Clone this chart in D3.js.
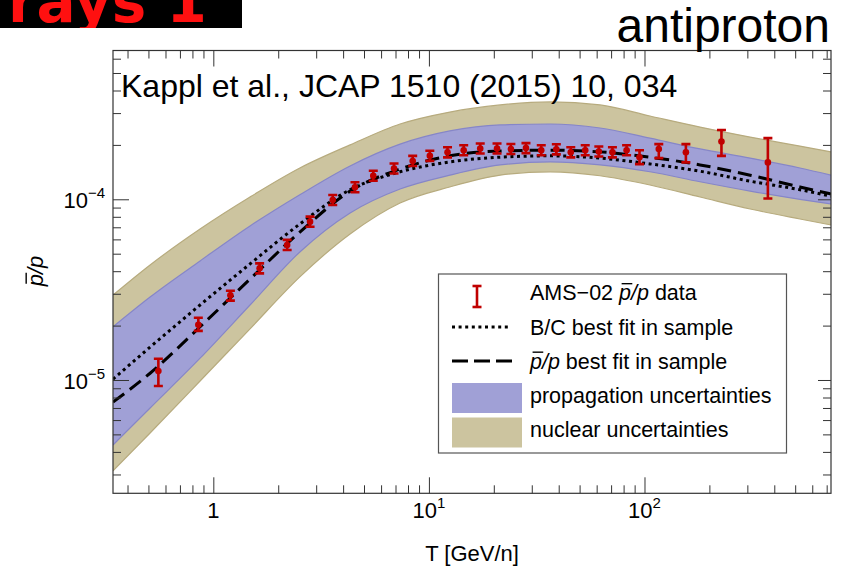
<!DOCTYPE html>
<html>
<head>
<meta charset="utf-8">
<script src="https://cdn.jsdelivr.net/npm/d3@7/dist/d3.min.js"></script>
<style>
body { margin: 0; background: #fff; }
text { font-family: "Liberation Sans", Arial, sans-serif; fill: #000; }
</style>
</head>
<body>
<svg width="846" height="570"></svg>
<script>
// sample energies T [GeV/n] for the model curves
var energy = [0.3425, 0.509, 0.868, 1.48, 2.52, 4.31, 7.35, 12.5, 21.4, 36.5, 62.2, 106, 181, 309, 526, 733];
// nuclear uncertainty band (outer)
var nuclearUpper = [2.95e-5, 4.33e-5, 6.85e-5, 1.03e-4, 1.49e-4, 2.00e-4, 2.61e-4, 3.04e-4, 3.33e-4, 3.46e-4, 3.33e-4, 2.89e-4, 2.51e-4, 2.21e-4, 1.97e-4, 1.83e-4];
var nuclearLower = [3.14e-6, 5.09e-6, 9.87e-6, 1.92e-5, 3.72e-5, 6.43e-5, 9.54e-5, 1.17e-4, 1.36e-4, 1.42e-4, 1.35e-4, 1.20e-4, 1.03e-4, 8.84e-5, 7.78e-5, 7.21e-5];
// propagation uncertainty band (inner)
var propUpper = [1.97e-5, 2.88e-5, 4.56e-5, 7.12e-5, 1.06e-4, 1.53e-4, 2.02e-4, 2.39e-4, 2.58e-4, 2.61e-4, 2.48e-4, 2.18e-4, 1.90e-4, 1.69e-4, 1.49e-4, 1.36e-4];
var propLower = [4.37e-6, 7.00e-6, 1.32e-5, 2.60e-5, 5.11e-5, 8.40e-5, 1.14e-4, 1.36e-4, 1.55e-4, 1.61e-4, 1.55e-4, 1.42e-4, 1.25e-4, 1.11e-4, 1.00e-4, 9.42e-5];
// best fits
var bcFit = [1.01e-5, 1.52e-5, 2.60e-5, 4.39e-5, 7.30e-5, 1.13e-4, 1.42e-4, 1.61e-4, 1.71e-4, 1.74e-4, 1.69e-4, 1.57e-4, 1.43e-4, 1.26e-4, 1.13e-4, 1.04e-4];
var pbarFit = [7.55e-6, 1.09e-5, 1.97e-5, 3.62e-5, 6.59e-5, 1.11e-4, 1.47e-4, 1.74e-4, 1.85e-4, 1.87e-4, 1.83e-4, 1.71e-4, 1.55e-4, 1.36e-4, 1.17e-4, 1.07e-4];

// AMS-02 pbar/p data
var dataT = [0.556, 0.852, 1.20, 1.64, 2.20, 2.81, 3.58, 4.54, 5.52, 6.89, 8.41, 10.1, 12.2, 14.5, 17.3, 20.7, 24.0, 28.2, 33.2, 39.0, 45.5, 53.1, 61.4, 71.0, 82.6, 94.8, 116.5, 155.6, 227.5, 373.5];
var dataRatio = [1.12e-5, 2.02e-5, 2.94e-5, 4.15e-5, 5.59e-5, 7.52e-5, 9.91e-5, 1.165e-4, 1.35e-4, 1.48e-4, 1.63e-4, 1.74e-4, 1.82e-4, 1.87e-4, 1.91e-4, 1.91e-4, 1.90e-4, 1.92e-4, 1.87e-4, 1.89e-4, 1.82e-4, 1.87e-4, 1.84e-4, 1.82e-4, 1.87e-4, 1.71e-4, 1.90e-4, 1.82e-4, 2.09e-4, 1.60e-4];
var dataLow = [9.26e-6, 1.87e-5, 2.75e-5, 3.89e-5, 5.24e-5, 7.05e-5, 9.30e-5, 1.093e-4, 1.266e-4, 1.388e-4, 1.529e-4, 1.632e-4, 1.707e-4, 1.754e-4, 1.792e-4, 1.792e-4, 1.782e-4, 1.801e-4, 1.754e-4, 1.773e-4, 1.707e-4, 1.754e-4, 1.726e-4, 1.707e-4, 1.754e-4, 1.565e-4, 1.69e-4, 1.60e-4, 1.74e-4, 1.01e-4];
var dataHigh = [1.31e-5, 2.21e-5, 3.12e-5, 4.42e-5, 5.96e-5, 8.02e-5, 1.056e-4, 1.242e-4, 1.439e-4, 1.578e-4, 1.738e-4, 1.855e-4, 1.940e-4, 1.993e-4, 2.036e-4, 2.036e-4, 2.025e-4, 2.047e-4, 1.993e-4, 2.015e-4, 1.940e-4, 1.993e-4, 1.961e-4, 1.940e-4, 1.993e-4, 1.869e-4, 2.02e-4, 2.02e-4, 2.42e-4, 2.18e-4];

var xMajor = [1, 10, 100];
var yMajor = [1e-5, 1e-4];
var legendLabels = ["AMS\u221202 p/p data", "B/C best fit in sample", "p/p best fit in sample", "propagation uncertainties", "nuclear uncertainties"];

var red = "#c00000", tanFill = "#ccc49f", tanEdge = "#b7ab7e", purpFill = "#a0a0d6", purpEdge = "#8686c8";

var svg = d3.select("svg");
var frame = {left: 113, right: 831, top: 50.5, bottom: 493.3};

var x = d3.scaleLog().domain([0.3425, 733]).range([frame.left, frame.right]);
var y = d3.scaleLog().domain([2.36e-6, 6.66e-4]).range([frame.bottom, frame.top]);

// slide header bits (cut off at the top, as on the slide)
svg.append("rect").attr("x", 0).attr("y", 0).attr("width", 242).attr("height", 28).attr("fill", "#000");
svg.append("clipPath").attr("id", "hdr").append("rect").attr("width", 242).attr("height", 28);
svg.append("text").attr("clip-path", "url(#hdr)")
  .attr("x", 8).attr("y", 22)
  .style("font-family", "'DejaVu Sans', sans-serif").style("font-weight", "bold")
  .style("font-size", "58px").style("fill", "#ff1010")
  .text("rays 1");

svg.append("defs").append("clipPath").attr("id", "plot")
  .append("rect").attr("x", frame.left).attr("y", frame.top)
  .attr("width", frame.right - frame.left).attr("height", frame.bottom - frame.top);

var plot = svg.append("g").attr("clip-path", "url(#plot)");
var idx = d3.range(energy.length);

function band(lower, upper, fill, edge) {
  var area = d3.area().curve(d3.curveMonotoneX)
    .x(function(i) { return x(energy[i]); })
    .y0(function(i) { return y(lower[i]); })
    .y1(function(i) { return y(upper[i]); });
  plot.append("path").attr("d", area(idx)).attr("fill", fill);
  [lower, upper].forEach(function(arr) {
    var line = d3.line().curve(d3.curveMonotoneX)
      .x(function(i) { return x(energy[i]); })
      .y(function(i) { return y(arr[i]); });
    plot.append("path").attr("d", line(idx)).attr("fill", "none")
      .attr("stroke", edge).attr("stroke-width", 1.2);
  });
}
band(nuclearLower, nuclearUpper, tanFill, tanEdge);
band(propLower, propUpper, purpFill, purpEdge);

function curve(arr, dash) {
  var line = d3.line().curve(d3.curveMonotoneX)
    .x(function(i) { return x(energy[i]); })
    .y(function(i) { return y(arr[i]); });
  plot.append("path").attr("d", line(idx)).attr("fill", "none")
    .attr("stroke", "#000").attr("stroke-width", 3)
    .attr("stroke-dasharray", dash);
}
curve(bcFit, "3,3.6");
curve(pbarFit, "14,7");

// data with error bars
var pts = plot.selectAll(".pt").data(d3.range(dataT.length)).enter().append("g").attr("class", "pt");
pts.append("line")
  .attr("x1", function(i) { return x(dataT[i]); }).attr("x2", function(i) { return x(dataT[i]); })
  .attr("y1", function(i) { return y(dataLow[i]); }).attr("y2", function(i) { return y(dataHigh[i]); })
  .attr("stroke", red).attr("stroke-width", 2.6);
[dataLow, dataHigh].forEach(function(arr) {
  pts.append("line")
    .attr("x1", function(i) { return x(dataT[i]) - 4.5; }).attr("x2", function(i) { return x(dataT[i]) + 4.5; })
    .attr("y1", function(i) { return y(arr[i]); }).attr("y2", function(i) { return y(arr[i]); })
    .attr("stroke", red).attr("stroke-width", 2.6);
});
pts.append("circle")
  .attr("cx", function(i) { return x(dataT[i]); }).attr("cy", function(i) { return y(dataRatio[i]); })
  .attr("r", 3.3).attr("fill", red);

// frame
svg.append("rect").attr("x", frame.left).attr("y", frame.top)
  .attr("width", frame.right - frame.left).attr("height", frame.bottom - frame.top)
  .attr("fill", "none").attr("stroke", "#333").attr("stroke-width", 1.2);

// ticks on all four sides, pointing inward
var xMinor = x.ticks().filter(function(v) { return xMajor.indexOf(v) < 0; });
var yMinor = y.ticks().filter(function(v) { return yMajor.indexOf(v) < 0; });
function ticks(axisFn, scale, vals, size, tr) {
  svg.append("g").attr("transform", tr)
    .call(axisFn(scale).tickValues(vals).tickSize(-size).tickFormat(""))
    .call(function(g) { g.select(".domain").remove(); })
    .selectAll("line").attr("stroke", "#333").attr("stroke-width", 1);
}
ticks(d3.axisBottom, x, xMinor, 8, "translate(0," + frame.bottom + ")");
ticks(d3.axisBottom, x, xMajor, 16, "translate(0," + frame.bottom + ")");
ticks(d3.axisTop, x, xMinor, 8, "translate(0," + frame.top + ")");
ticks(d3.axisTop, x, xMajor, 16, "translate(0," + frame.top + ")");
ticks(d3.axisLeft, y, yMinor, 8, "translate(" + frame.left + ",0)");
ticks(d3.axisLeft, y, yMajor, 16, "translate(" + frame.left + ",0)");
ticks(d3.axisRight, y, yMinor, 8, "translate(" + frame.right + ",0)");
ticks(d3.axisRight, y, yMajor, 13, "translate(" + frame.right + ",0)");

// tick labels
xMajor.forEach(function(v) {
  var e = Math.round(Math.log10(v));
  var t = svg.append("text").attr("x", x(v)).attr("y", 518)
    .attr("text-anchor", "middle").style("font-size", "22px");
  if (e === 0) { t.text("1"); return; }
  t.append("tspan").text("10");
  t.append("tspan").attr("dy", -10).style("font-size", "15px").text(e);
});
yMajor.forEach(function(v) {
  var e = Math.round(Math.log10(v));
  var t = svg.append("text").attr("x", 105).attr("y", y(v) + 9)
    .attr("text-anchor", "end").style("font-size", "22px");
  t.append("tspan").text("10");
  t.append("tspan").attr("dy", -10).style("font-size", "15px").text("\u2212" + Math.abs(e));
});

svg.append("text").attr("x", (frame.left + frame.right) / 2).attr("y", 561)
  .attr("text-anchor", "middle").style("font-size", "22px").text("T [GeV/n]");

// p-bar over p, with an overline drawn over the first p
function pbarText(g, size, before, after) {
  var t = g.append("text").style("font-size", size + "px");
  if (before) t.append("tspan").text(before);
  t.append("tspan").style("font-style", "italic").text("p/p");
  if (after) t.append("tspan").text(after);
  return t;
}
function overline(g, t, charIdx, size) {
  var ext = t.node().getExtentOfChar(charIdx);
  var base = ext.y + ext.height - 0.212 * size;
  g.append("line")
    .attr("x1", ext.x + 0.12 * size).attr("x2", ext.x + ext.width + 0.06 * size)
    .attr("y1", base - 0.78 * size).attr("y2", base - 0.78 * size)
    .attr("stroke", "#000").attr("stroke-width", 1.4);
}
var yt = svg.append("g").attr("transform", "translate(43,271) rotate(-90)");
var ytText = pbarText(yt, 22, "", "").attr("text-anchor", "middle");
overline(yt, ytText, 0, 22);

// legend
var lg = svg.append("g");
lg.append("rect").attr("x", 438.5).attr("y", 274).attr("width", 348).attr("height", 179)
  .attr("fill", "#fff").attr("stroke", "#555").attr("stroke-width", 1.2);
var rowBase = [300, 334.5, 368.5, 402.5, 437];
var lx = 530, fs = 21.5;

lg.append("line").attr("x1", 477).attr("x2", 477).attr("y1", 286).attr("y2", 307)
  .attr("stroke", red).attr("stroke-width", 2.6);
[286, 307].forEach(function(yy) {
  lg.append("line").attr("x1", 472.5).attr("x2", 481.5).attr("y1", yy).attr("y2", yy)
    .attr("stroke", red).attr("stroke-width", 2.6);
});
lg.append("line").attr("x1", 452).attr("x2", 511).attr("y1", 327).attr("y2", 327)
  .attr("stroke", "#000").attr("stroke-width", 3).attr("stroke-dasharray", "3,3.6");
lg.append("line").attr("x1", 452).attr("x2", 512).attr("y1", 361).attr("y2", 361)
  .attr("stroke", "#000").attr("stroke-width", 3).attr("stroke-dasharray", "16,6");
lg.append("rect").attr("x", 452).attr("y", 383).attr("width", 70).attr("height", 30).attr("fill", purpFill);
lg.append("rect").attr("x", 452).attr("y", 417.5).attr("width", 70).attr("height", 30).attr("fill", tanFill);

var r0 = lg.append("g").attr("transform", "translate(" + lx + "," + rowBase[0] + ")");
var t0 = pbarText(r0, fs, "AMS\u221202 ", " data");
overline(r0, t0, 7, fs);
lg.append("text").attr("x", lx).attr("y", rowBase[1]).style("font-size", fs + "px").text(legendLabels[1]);
var r2 = lg.append("g").attr("transform", "translate(" + lx + "," + rowBase[2] + ")");
var t2 = pbarText(r2, fs, "", " best fit in sample");
overline(r2, t2, 0, fs);
lg.append("text").attr("x", lx).attr("y", rowBase[3]).style("font-size", fs + "px").text(legendLabels[3]);
lg.append("text").attr("x", lx).attr("y", rowBase[4]).style("font-size", fs + "px").text(legendLabels[4]);

// annotations
svg.append("text").attr("x", 121).attr("y", 97).style("font-size", "32px")
  .text("Kappl et al., JCAP 1510 (2015) 10, 034");
svg.append("text").attr("x", 830).attr("y", 42).attr("text-anchor", "end")
  .style("font-size", "48px").text("antiproton");
</script>
</body>
</html>
